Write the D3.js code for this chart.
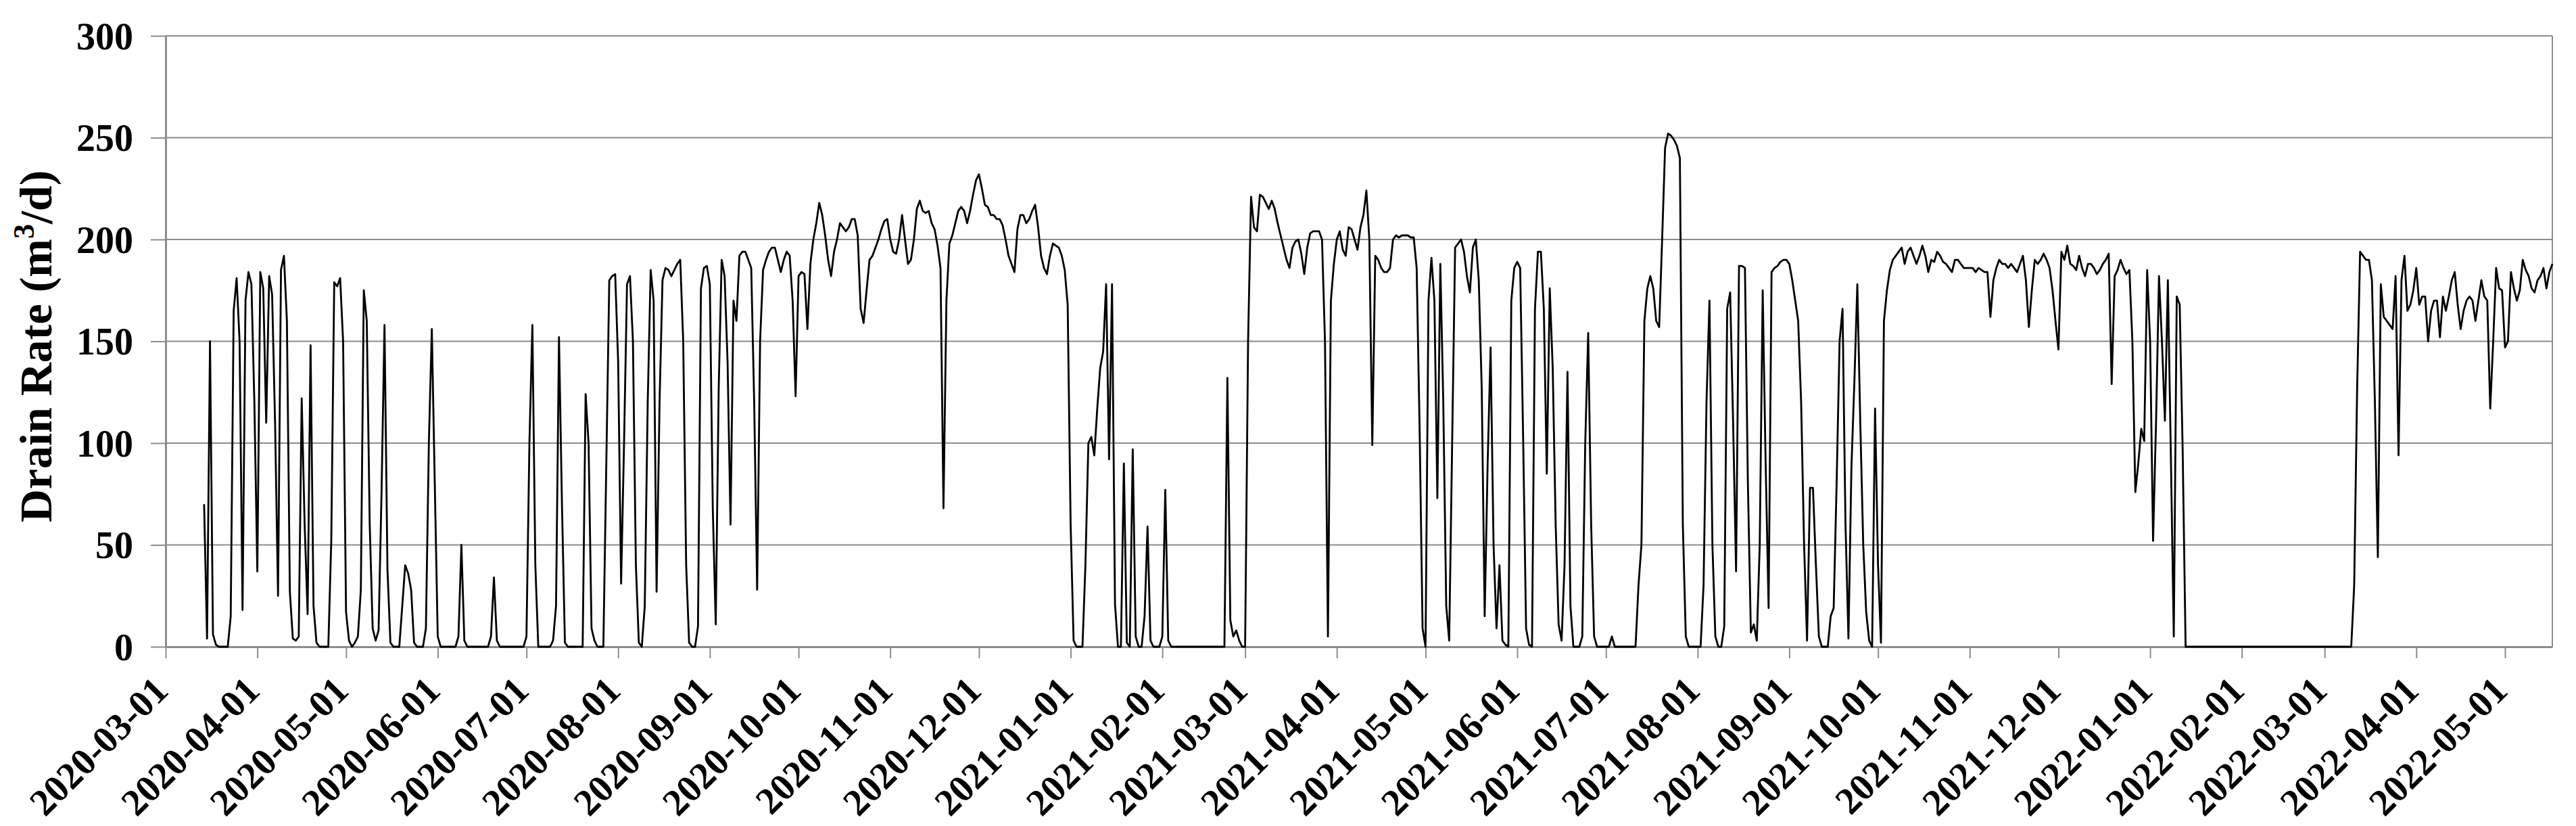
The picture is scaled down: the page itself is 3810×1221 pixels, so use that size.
<html>
<script src="https://d3js.org/d3.v7.min.js"></script>
<style>
    body {
        margin: 0;
        background: #ffffff;
    }

    svg text {
        font-family: "Liberation Serif", "Times New Roman", serif;
        font-weight: bold;
        fill: #000000;
    }
</style>

<body>
    <svg id="chart" width="3810" height="1221"></svg>
    <script>
        // daily readings, first one on startDate
        var startDate = "2020-03-14";
        var axisStart = "2020-03-01";
        var axisEnd = "2022-05-17";
        var yTicks = [0, 50, 100, 150, 200, 250, 300];

        var mar2020 = [70, 4, 150, 6, 1, 0, 0, 0, 0, 15, 165, 181, 150, 18, 170, 184, 178, 120];
        var apr2020 = [37, 184, 176, 110, 182, 173, 110, 25, 185, 192, 160, 27, 4, 3, 5, 122, 60, 16, 148, 20, 2, 0, 0, 0, 0, 52, 179, 177, 181, 150];
        var may2020 = [17, 3, 0, 2, 5, 28, 175, 160, 60, 9, 3, 8, 76, 158, 38, 2, 0, 0, 0, 20, 40, 36, 28, 2, 0, 0, 0, 9, 100, 156, 80];
        var jun2020 = [5, 0, 0, 0, 0, 0, 0, 5, 50, 3, 0, 0, 0, 0, 0, 0, 0, 0, 5, 34, 3, 0, 0, 0, 0, 0, 0, 0, 0, 0];
        var jul2020 = [5, 100, 158, 40, 0, 0, 0, 0, 0, 3, 20, 152, 70, 2, 0, 0, 0, 0, 0, 0, 124, 100, 9, 3, 0, 0, 0, 90, 180, 182, 183];
        var aug2020 = [140, 31, 100, 178, 182, 150, 40, 2, 0, 20, 120, 185, 170, 27, 120, 180, 186, 185, 182, 185, 188, 190, 150, 40, 2, 0, 0, 10, 176, 186, 187];
        var sep2020 = [178, 68, 11, 127, 190, 182, 140, 60, 170, 160, 192, 194, 194, 190, 186, 120, 28, 150, 185, 190, 194, 196, 196, 190, 184, 190, 194, 192, 170, 123];
        var oct2020 = [182, 184, 183, 156, 188, 200, 208, 218, 212, 202, 190, 182, 194, 200, 208, 206, 204, 206, 210, 210, 202, 166, 159, 175, 190, 192, 196, 200, 205, 209, 210];
        var nov2020 = [200, 194, 193, 200, 212, 200, 188, 190, 200, 215, 219, 214, 213, 214, 208, 205, 197, 186, 68, 170, 198, 202, 208, 214, 216, 214, 208, 214, 222, 229];
        var dec2020 = [232, 225, 217, 216, 212, 212, 210, 210, 207, 200, 192, 188, 184, 205, 212, 212, 208, 210, 214, 217, 206, 192, 186, 183, 192, 198, 197, 196, 192, 185, 168];
        var jan2021 = [60, 3, 0, 0, 0, 40, 100, 103, 94, 117, 137, 145, 178, 92, 178, 21, 0, 0, 90, 2, 0, 97, 5, 0, 0, 15, 59, 3, 0, 0, 0];
        var feb2021 = [5, 77, 3, 0, 0, 0, 0, 0, 0, 0, 0, 0, 0, 0, 0, 0, 0, 0, 0, 0, 0, 0, 132, 13, 5, 8, 3, 0];
        var mar2021 = [0, 150, 221, 206, 204, 222, 221, 218, 215, 219, 215, 208, 202, 196, 190, 186, 196, 199, 200, 193, 183, 196, 203, 204, 204, 204, 200, 150, 5, 170, 188];
        var apr2021 = [200, 204, 195, 192, 206, 205, 200, 195, 206, 212, 224, 200, 99, 192, 190, 186, 184, 184, 186, 200, 202, 201, 202, 202, 202, 201, 201, 186, 107, 9];
        var may2021 = [0, 170, 191, 170, 73, 188, 120, 20, 3, 100, 196, 198, 200, 194, 182, 174, 196, 200, 180, 127, 15, 90, 147, 50, 9, 40, 3, 1, 0, 170, 186];
        var jun2021 = [189, 186, 103, 9, 1, 0, 166, 194, 194, 166, 85, 176, 137, 60, 11, 3, 40, 135, 20, 0, 0, 0, 5, 100, 154, 60, 5, 0, 0, 0];
        var jul2021 = [0, 0, 5, 0, 0, 0, 0, 0, 0, 0, 0, 30, 50, 160, 176, 182, 176, 160, 157, 200, 245, 252, 251, 249, 246, 240, 60, 5, 0, 0, 0];
        var aug2021 = [0, 0, 30, 120, 170, 50, 5, 0, 0, 10, 166, 174, 110, 37, 187, 187, 186, 80, 7, 11, 3, 50, 175, 90, 19, 184, 186, 187, 189, 190, 190];
        var sep2021 = [188, 180, 170, 160, 120, 50, 3, 78, 78, 40, 5, 0, 0, 0, 15, 19, 80, 150, 166, 60, 4, 88, 130, 178, 110, 50, 17, 3, 0, 117];
        var oct2021 = [40, 2, 160, 175, 185, 190, 192, 194, 196, 188, 194, 196, 192, 188, 192, 197, 192, 184, 190, 189, 194, 192, 189, 188, 186, 184, 190, 190, 188, 186, 186];
        var nov2021 = [186, 186, 184, 186, 185, 184, 184, 162, 180, 186, 190, 188, 188, 186, 188, 186, 184, 188, 192, 180, 157, 175, 190, 188, 190, 193, 190, 186, 175, 160];
        var dec2021 = [146, 194, 190, 197, 188, 187, 185, 192, 186, 182, 188, 188, 186, 183, 185, 188, 190, 193, 129, 182, 185, 190, 186, 183, 185, 150, 76, 90, 107, 101, 185];
        var jan2022 = [150, 52, 110, 182, 150, 111, 180, 95, 5, 172, 168, 97, 0, 0, 0, 0, 0, 0, 0, 0, 0, 0, 0, 0, 0, 0, 0, 0, 0, 0, 0];
        var feb2022 = [0, 0, 0, 0, 0, 0, 0, 0, 0, 0, 0, 0, 0, 0, 0, 0, 0, 0, 0, 0, 0, 0, 0, 0, 0, 0, 0, 0];
        var mar2022 = [0, 0, 0, 0, 0, 0, 0, 0, 0, 0, 30, 127, 194, 192, 190, 190, 180, 120, 44, 178, 162, 160, 158, 156, 182, 94, 180, 192, 165, 168, 175];
        var apr2022 = [186, 168, 172, 172, 150, 165, 170, 170, 152, 172, 165, 172, 180, 184, 168, 156, 165, 170, 172, 170, 160, 170, 180, 172, 170, 117, 150, 186, 176, 175];
        var may2022 = [147, 150, 184, 176, 170, 175, 190, 185, 182, 176, 174, 180, 182, 186, 176, 184, 188];

        var drainRate = [].concat(mar2020, apr2020, may2020, jun2020, jul2020, aug2020, sep2020, oct2020, nov2020, dec2020,
            jan2021, feb2021, mar2021, apr2021, may2021, jun2021, jul2021, aug2021, sep2021, oct2021, nov2021, dec2021,
            jan2022, feb2022, mar2022, apr2022, may2022);

        var plotLeft = 245, plotRight = 3775, plotTop = 53, plotBottom = 956;
        var gridColor = "#8c8c8c";

        var parse = d3.utcParse("%Y-%m-%d");
        var start = parse(startDate);
        var points = drainRate.map(function (v, i) {
            return { date: d3.utcDay.offset(start, i), value: v };
        });

        var xs = d3.scaleUtc().domain([parse(axisStart), parse(axisEnd)]).range([plotLeft, plotRight]);
        var ys = d3.scaleLinear().domain([0, 300]).range([plotBottom, plotTop]);

        var svg = d3.select("#chart");

        // horizontal gridlines
        svg.append("g")
            .selectAll("line").data(yTicks.filter(function (d) { return d > 0; })).enter().append("line")
            .attr("x1", plotLeft)
            .attr("x2", plotRight)
            .attr("y1", function (d) { return ys(d); })
            .attr("y2", function (d) { return ys(d); })
            .attr("stroke", gridColor)
            .attr("stroke-width", 2);

        // right border of plot area
        svg.append("line")
            .attr("x1", plotRight).attr("x2", plotRight)
            .attr("y1", ys(300)).attr("y2", ys(0))
            .attr("stroke", gridColor)
            .attr("stroke-width", 2);

        // y axis
        var yAxis = svg.append("g")
            .attr("transform", "translate(" + plotLeft + ",0)")
            .call(d3.axisLeft(ys).tickValues(yTicks).tickSize(22).tickSizeOuter(0).tickPadding(26));
        yAxis.select(".domain").attr("stroke", gridColor).attr("stroke-width", 3);
        yAxis.selectAll(".tick line").attr("stroke", gridColor).attr("stroke-width", 2);
        yAxis.selectAll("text")
            .attr("font-size", 56)
            .attr("font-family", "Liberation Serif, serif")
            .attr("dy", "0.34em");

        // x axis
        var xAxis = svg.append("g")
            .attr("transform", "translate(0," + plotBottom + ")")
            .call(d3.axisBottom(xs).ticks(d3.utcMonth.every(1)).tickFormat(d3.utcFormat("%Y-%m-%d")).tickSize(17).tickSizeOuter(0));
        xAxis.select(".domain").attr("stroke", gridColor).attr("stroke-width", 3);
        xAxis.selectAll(".tick line").attr("stroke", gridColor).attr("stroke-width", 2);
        xAxis.selectAll("text")
            .attr("font-size", 56)
            .attr("font-family", "Liberation Serif, serif")
            .attr("text-anchor", "end")
            .attr("x", 0)
            .attr("y", 0)
            .attr("dy", 0)
            .attr("transform", "translate(6,68) rotate(-45)");

        // the series
        var line = d3.line()
            .x(function (d) { return xs(d.date); })
            .y(function (d) { return ys(d.value); });

        svg.append("path")
            .datum(points)
            .attr("d", line)
            .attr("fill", "none")
            .attr("stroke", "#000000")
            .attr("stroke-width", 2.8)
            .attr("stroke-linejoin", "round");

        // y axis title
        var title = svg.append("text")
            .attr("transform", "translate(76,512) rotate(-90)")
            .attr("text-anchor", "middle")
            .attr("font-size", 68);
        title.append("tspan").text("Drain Rate (m");
        title.append("tspan").attr("font-size", 44).attr("dy", -26).text("3");
        title.append("tspan").attr("dy", 26).text("/d)");
    </script>
</body>

</html>
